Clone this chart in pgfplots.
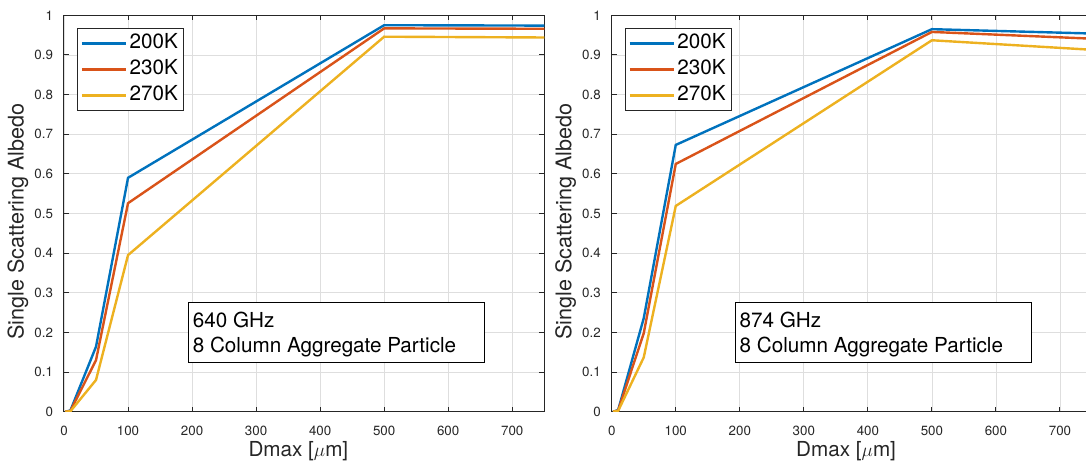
\documentclass[border=0pt]{standalone}
\usepackage{pgfplots}
\pgfplotsset{compat=1.18}
\usepackage{fontspec}
\setmainfont{TeX Gyre Heros}

\definecolor{mblue}{rgb}{0,0.447,0.741}
\definecolor{morange}{rgb}{0.85,0.325,0.098}
\definecolor{myellow}{rgb}{0.929,0.694,0.125}
\definecolor{axgray}{rgb}{0.15,0.15,0.15}
\definecolor{gridgray}{rgb}{0.87,0.87,0.87}

\tikzset{boxtext/.style={anchor=base west, font=\fontsize{15.5}{18}\selectfont, inner sep=0pt}}

\pgfplotsset{
  albedo/.style={
    scale only axis, width=360.2pt, height=297.3pt,
    xmin=0, xmax=750, ymin=0, ymax=1,
    xtick={0,100,200,300,400,500,600,700},
    ytick={0,0.1,0.2,0.3,0.4,0.5,0.6,0.7,0.8,0.9,1},
    tick align=inside, major tick length=3.75pt,
    xtick pos=both, ytick pos=both,
    grid=major, major grid style={gridgray, line width=0.6pt},
    axis line style={axgray, line width=0.75pt},
    tick style={axgray, line width=0.75pt},
    /pgf/number format/assume math mode=true,
    ticklabel style={font=\fontsize{10}{12}\selectfont, text=axgray},
    xticklabel style={yshift=-7pt},
    yticklabel style={xshift=-4.7pt},
    xlabel={Dmax [$\mu$m]}, ylabel={Single Scattering Albedo},
    xlabel style={font=\fontsize{15.5}{18}\selectfont, text=axgray,
      at={(axis description cs:0.488,-0.1135)}, anchor=base},
    ylabel style={font=\fontsize{16.2}{19}\selectfont, text=axgray,
      at={(axis description cs:-0.0958,0.479)}, anchor=center},
    legend style={at={(axis description cs:0.027,0.968)}, anchor=north west,
      draw=axgray, line width=0.6pt, inner xsep=2.4pt, inner ysep=1.5pt,
      font=\fontsize{15.5}{18}\selectfont,
      nodes={inner sep=2pt, text height=11.3pt, text depth=4.2pt}, row sep=0pt},
    legend image code/.code={\draw[##1] (0pt,0pt) -- (33pt,0pt);},
    every axis plot/.append style={line width=1.8pt},
  },
}

\begin{document}
\begin{tikzpicture}
\useasboundingbox (0,0) rectangle (814.5pt,347.25pt);
\clip (0,0) rectangle (814.5pt,347.25pt);

% 640 GHz
\begin{axis}[albedo, at={(48pt,38.475pt)}]
\addplot[mblue] coordinates {(2,0) (10,0.003) (50,0.164) (100,0.590) (500,0.975) (750,0.974)};
\addplot[morange] coordinates {(2,0) (10,0.002) (50,0.130) (100,0.526) (500,0.967) (750,0.966)};
\addplot[myellow] coordinates {(2,0) (10,0.001) (50,0.080) (100,0.395) (500,0.946) (750,0.944)};
\legend{200K,230K,270K}
\draw[black, line width=0.6pt, fill=white] (axis description cs:0.2588,0.275) rectangle (axis description cs:0.8745,0.1254);
\node[boxtext] at (axis description cs:0.2677,0.2129) {640 GHz};
\node[boxtext] at (axis description cs:0.2677,0.1498) {8 Column Aggregate Particle};
\end{axis}

% 874 GHz
\begin{axis}[albedo, at={(458.8pt,38.475pt)}]
\addplot[mblue] coordinates {(2,0) (10,0.004) (50,0.236) (100,0.673) (500,0.965) (750,0.954)};
\addplot[morange] coordinates {(2,0) (10,0.003) (50,0.198) (100,0.625) (500,0.958) (750,0.941)};
\addplot[myellow] coordinates {(2,0) (10,0.002) (50,0.137) (100,0.519) (500,0.937) (750,0.913)};
\legend{200K,230K,270K}
\draw[black, line width=0.6pt, fill=white] (axis description cs:0.2569,0.275) rectangle (axis description cs:0.8735,0.1254);
\node[boxtext] at (axis description cs:0.2658,0.2129) {874 GHz};
\node[boxtext] at (axis description cs:0.2658,0.1498) {8 Column Aggregate Particle};
\end{axis}
\end{tikzpicture}
\end{document}
